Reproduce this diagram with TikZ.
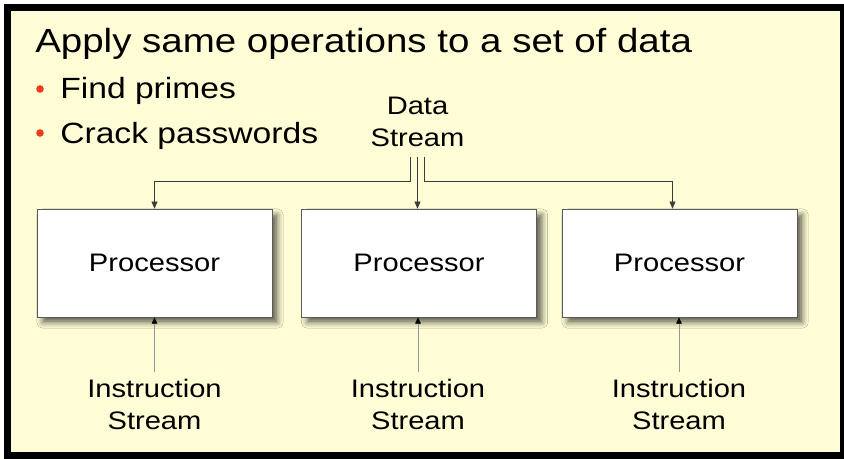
\documentclass[tikz,border=0pt]{standalone}
\usepackage{fontspec}
\setmainfont{Liberation Sans}[FakeStretch=1.15]
\usetikzlibrary{positioning,arrows.meta,calc,shadows.blur}
\definecolor{slidebg}{RGB}{255,253,214}
\definecolor{bulred}{RGB}{240,60,30}
\definecolor{boxline}{RGB}{90,90,90}
\definecolor{dline}{RGB}{60,60,60}
\definecolor{iline}{RGB}{150,150,150}
\tikzset{
  proc/.style={draw=boxline,fill=white,minimum width=5.875cm,minimum height=2.7cm,font=\fontsize{18}{22}\selectfont,
    blur shadow={shadow xshift=1.4mm,shadow yshift=-1.4mm,shadow blur radius=1.4mm,shadow opacity=60}},
  lbl/.style={align=center,inner sep=0pt,font=\fontsize{18}{22.8}\selectfont},
  dot/.style={circle,fill=bulred,inner sep=0pt,minimum size=1.9mm},
  bul/.style={anchor=base west,inner sep=0pt,font=\fontsize{20.8}{24}\selectfont},
  dar/.style={-{Triangle[length=1.8mm,width=1.5mm]},dline,line width=0.6pt},
  iar/.style={-{Triangle[length=1.6mm,width=1.4mm,color=black]},iline,line width=0.6pt},
}

\begin{document}
\begin{tikzpicture}[x=0.025cm,y=-0.025cm]
  % slide frame
  \useasboundingbox (0,0) rectangle (844,459);
  \fill[white] (0,0) rectangle (844,459);
  \fill[black] (4,4) rectangle (844,459);
  \fill[slidebg] (11,11) rectangle (840,452);
  % heading and bullets
  \node[anchor=base west,inner sep=0pt,font=\fontsize{23.8}{28}\selectfont] (title) at (35,53) {Apply same operations to a set of data};
  \node[dot] (d1) at (40,89) {};
  \node[dot] (d2) at (40,133) {};
  \node[bul] (b1) at (60,99) {Find primes};
  \node[bul] (b2) at (60,144) {Crack passwords};
  % processors
  \node[proc] (p1) at (154.5,263) {Processor};
  \node[proc] (p2) at (419,263) {Processor};
  \node[proc] (p3) at (679.5,263) {Processor};
  % streams
  \node[lbl] (ds) at (417.5,122) {Data\\Stream};
  \foreach \i/\x in {1/154.5,2/418,3/679}
    \node[lbl] (is\i) at (\x,404) {Instruction\\Stream};
  \coordinate (hub) at (417,181);
  \coordinate (dsL) at ($(ds.south)+(-7,10)$);
  \coordinate (dsM) at ($(ds.south)+(0,10)$);
  \coordinate (dsR) at ($(ds.south)+(7,10)$);
  \draw[dar] (dsL) -- (dsL |- hub) -| (p1.north);
  \draw[dar] (dsM) -- (dsM |- p2.north);
  \draw[dar] (dsR) -- (dsR |- hub) -| ($(p3.north)+(-7,0)$);
  \foreach \i in {1,2,3}
    \draw[iar,shorten <=1.5mm] (is\i.north) -- (is\i.north |- p\i.south);
\end{tikzpicture}
\end{document}
